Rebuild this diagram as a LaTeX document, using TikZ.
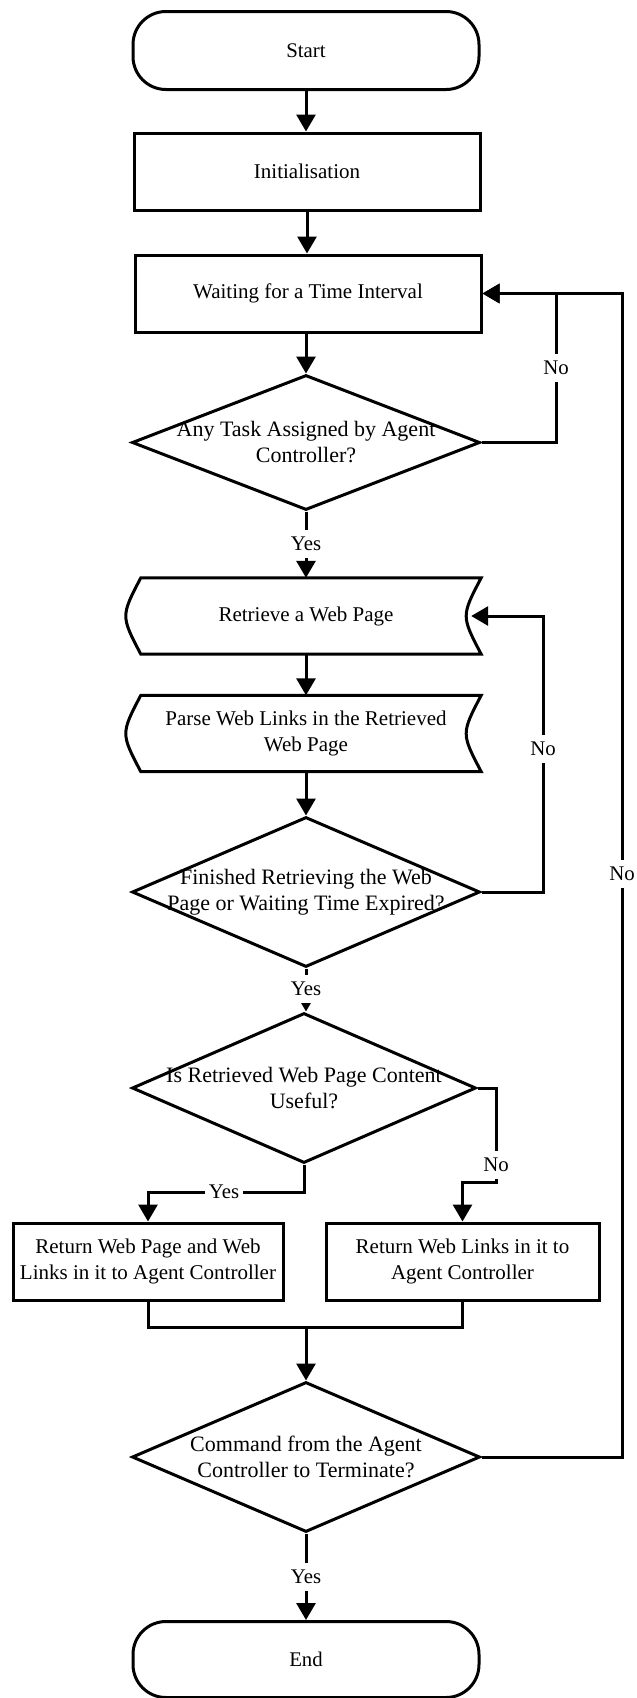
\documentclass[tikz,border=0pt]{standalone}
\usepackage{fontspec}
\setmainfont{Liberation Serif}
\usetikzlibrary{shapes.geometric,arrows.meta,calc}
\begin{document}
\begin{tikzpicture}[x=1pt,y=-1pt,
  every node/.style={font=\fontsize{20.8}{26}\selectfont},
  conn/.style={line width=3pt},
  arr/.style={conn,-{Triangle[length=17pt,width=19pt]}},
  term/.style={draw,line width=3pt,rounded corners=33pt,minimum width=346pt,minimum height=78pt,inner sep=0pt},
  proc/.style={draw,line width=3pt,minimum width=346pt,minimum height=77pt,inner sep=0pt,align=center,
    font=\fontsize{21}{26}\selectfont},
  decision/.style={draw,diamond,line width=3pt,minimum width=348pt,minimum height=150pt,inner sep=0pt},
  qtext/.style={align=center,inner sep=0pt,font=\fontsize{22}{26}\selectfont},
  stored/.style={minimum width=340pt,minimum height=76pt,inner sep=0pt,align=center,
    font=\fontsize{21}{26}\selectfont},
  storedline/.style={line width=3pt,line join=miter},
  lbl/.style={fill=white,inner xsep=4pt,inner ysep=7pt}]

% page area
\fill[white] (0,0) rectangle (637,1698);
\useasboundingbox (0,0) rectangle (637,1698);

% helper coordinates for the loop-back and branch lines
\coordinate (noA) at (556,0);
\coordinate (noB) at (543,0);
\coordinate (outer) at (622,0);
\coordinate (ybr) at (0,1192);
\coordinate (nbr) at (496,1182);
\coordinate (mrg) at (0,1327);

% main column
\node[term] (start) at (306,50.5) {Start};
\node[proc] (init) at (307,171.5) {Initialisation};
\node[proc] (wait) at (308,293.5) {Waiting for a Time Interval};
\node[decision,minimum height=135pt] (d1) at (306,442.5) {};
\node[qtext] (d1t) at (d1.center) {Any Task Assigned by Agent\\Controller?};

\node[stored] (ret) at (306,616) {Retrieve a Web Page};
\node[stored] (parse) at (306,733.5) {Parse Web Links in the Retrieved\\Web Page};
% stored-data outlines (convex left side, concave right side)
\foreach \n in {ret,parse}{
  \draw[storedline] ([xshift=5pt]\n.north west) -- ([xshift=5pt]\n.north east)
    .. controls ([xshift=-15pt]\n.east) .. ([xshift=5pt]\n.south east)
    -- ([xshift=5pt]\n.south west)
    .. controls ([xshift=-15pt]\n.west) .. cycle;
}

\node[decision] (d2) at (306,892) {};
\node[qtext] (d2t) at (d2.center) {Finished Retrieving the Web\\Page or Waiting Time Expired?};

\node[decision,minimum width=344pt] (d3) at (304,1088) {};
\node[qtext] (d3t) at (d3.center) {Is Retrieved Web Page Content\\Useful?};

\node[proc,minimum width=270pt] (r1) at (148,1261.5) {Return Web Page and Web\\Links in it to Agent Controller};
\node[proc,minimum width=273pt] (r2) at (462.5,1261.5) {Return Web Links in it to\\Agent Controller};

\node[decision] (d4) at (306,1457) {};
\node[qtext] (d4t) at (d4.center) {Command from the Agent\\Controller to Terminate?};

\node[term,minimum height=76pt] (end) at (306,1659.5) {End};

% straight flow
\draw[arr] (start.south) -- (start.south |- init.north);
\draw[arr] (init.south) -- (init.south |- wait.north);
\draw[arr] (wait.south -| d1.north) -- (d1.north);
\draw[arr] (d1.south) -- (d1.south |- ret.north);
\draw[arr] (ret.south) -- (parse.north);
\draw[arr] (parse.south) -- (parse.south -| d2.north) -- (d2.north);
\draw[arr] (d2.south) -- (d2.south |- d3.north);
\draw[arr] (d4.south) -- (d4.south |- end.north);

% loop-backs
\draw[arr] (d1.east) -| (noA |- wait.east) -- (wait.east);
\draw[arr] (d4.east) -| (outer |- wait.east) -- (wait.east);
\draw[arr] (d2.east) -| (noB |- ret.east) -- ([xshift=-5pt]ret.east);

% usefulness branch
\draw[arr] (d3.south) |- (r1.north |- ybr) -- (r1.north);
\draw[arr] (d3.east) -| (nbr) -| (r2.north);

% merge into the final decision
\draw[conn] (r1.south) |- (mrg -| r2.south) -- (r2.south);
\draw[arr] (d4.north |- mrg) -- (d4.north);

% branch labels
\node[lbl] (l1) at (556,368) {No};
\node[lbl] (l2) at (306,544) {Yes};
\node[lbl] (l3) at (543,749) {No};
\node[lbl] (l4) at (306,989) {Yes};
\node[lbl] (l5) at (224,1192) {Yes};
\node[lbl] (l6) at (496,1165) {No};
\node[lbl] (l7) at (622,874) {No};
\node[lbl] (l8) at (306,1577) {Yes};
\end{tikzpicture}
\end{document}
